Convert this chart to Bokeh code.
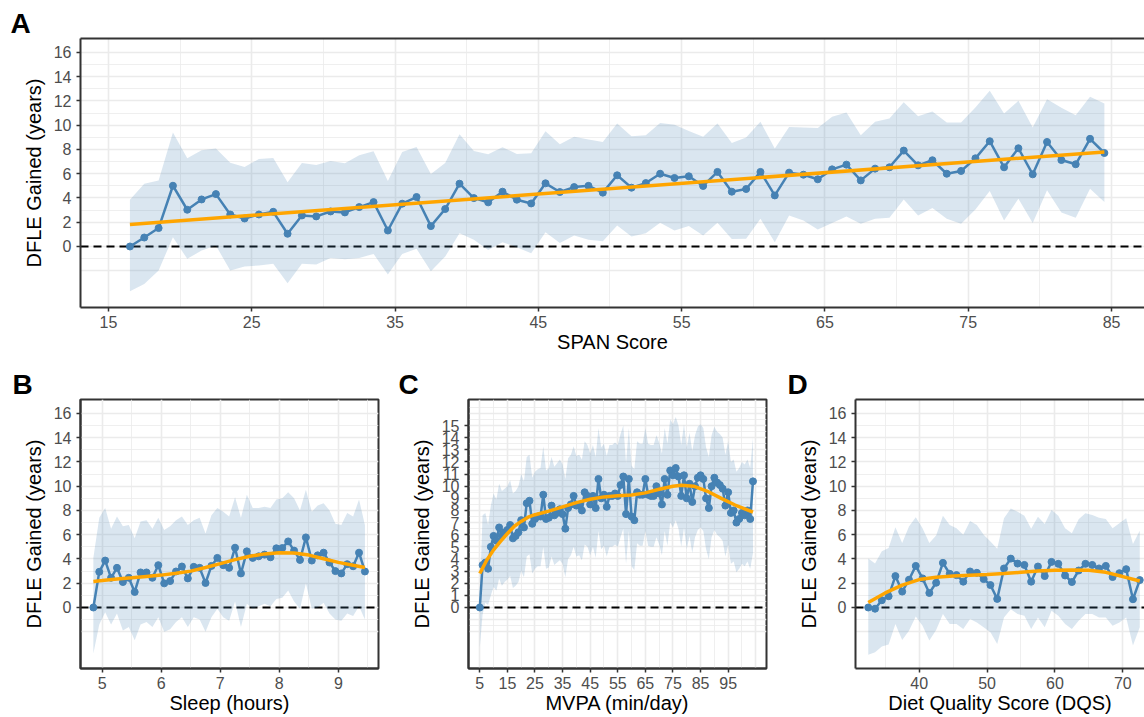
import numpy as np
from bokeh.plotting import figure
from bokeh.layouts import column, row
from bokeh.models import FixedTicker, LinearAxis, Span, AllLabels, Range1d, Title
from bokeh.embed import file_html
from bokeh.resources import INLINE

FONT = "Liberation Sans"
BLUE = "#4682B4"
ORANGE = "#FFA500"
YTITLE = "DFLE Gained (years)"

# ---------------- Panel A: SPAN Score ----------------
span_x = list(np.arange(16.5, 85.0, 1.0))
span_y = [0, 0.74, 1.52, 5.01, 3.03, 3.88, 4.32, 2.64, 2.31, 2.64,
          2.86, 1.05, 2.56, 2.48, 2.89, 2.81, 3.25, 3.66, 1.32, 3.53,
          4.08, 1.68, 3.09, 5.18, 3.99, 3.64, 4.52, 3.86, 3.55, 5.21,
          4.49, 4.9,
          5.0, 4.44, 5.87, 4.85, 5.23, 6.0, 5.65, 5.79, 4.99, 6.15,
          4.52, 4.74, 6.15, 4.21, 6.09, 5.92, 5.54, 6.36, 6.75, 5.45,
          6.42, 6.53, 7.91, 6.69, 7.11, 6.0, 6.23, 7.27, 8.68, 6.53,
          8.1, 5.95, 8.62, 7.13, 6.78, 8.88, 7.71]
span_hi = [3.86, 5.18, 5.45, 9.4, 7.27, 7.93, 8.07, 6.91, 6.56, 7.22,
           7.3, 5.29, 6.89, 6.72, 7.05, 6.86, 7.52, 7.85, 5.4, 7.8,
           8.21, 5.98, 6.89, 9.26, 7.88, 7.6, 8.18, 7.63, 7.69, 9.5,
           8.43, 9.04,
           8.82, 8.62, 10.14, 9.09, 9.17, 10.19, 10.03, 9.53, 9.04, 10.14,
           8.54, 8.98, 10.28, 8.07, 9.86, 9.81, 9.78, 10.69, 11.05, 9.17,
           10.28, 10.55, 11.9, 10.74, 11.13, 10.22, 10.22, 11.46, 12.84, 10.96,
           12.01, 9.81, 12.15, 11.43, 10.83, 12.34, 11.79]
span_lo = [-3.69, -3.09, -1.98, 0.77, -1.02, -0.33, 0.08, -1.98, -1.65, -1.57,
           -1.43, -3.03, -1.43, -1.49, -0.94, -1.05, -0.94, -0.61, -2.31, -0.61,
           -0.19, -2.04, -0.83, 1.1, 0.55, -0.28, 0.36, -0.06, -0.55, 1.18,
           0.28, 0.91,
           0.55, 0.44, 1.74, 0.83, 1.1, 1.96, 1.32, 1.68, 0.91, 1.96,
           0.61, 0.63, 2.29, 0.36, 2.56, 2.15, 1.4, 1.93, 2.48, 1.87,
           2.29, 2.37, 3.88, 2.56, 3.17, 2.29, 1.87, 3.06, 4.57, 2.15,
           3.94, 1.93, 4.63, 2.81, 2.37, 4.77, 3.66]
span_fit_x = [16.5, 84.5]
span_fit_y = [1.82, 7.8]

# ---------------- Panel B: Sleep ----------------
sleep_x = list(np.round(np.arange(4.85, 9.46, 0.1), 2))
sleep_y = [0, 2.94, 3.87, 2.45, 3.27, 2.1, 2.45, 1.28, 2.89, 2.89,
           2.45, 3.49, 1.99, 2.18, 2.97, 3.38, 2.4, 3.35, 3.27, 2.02,
           3.43, 4.09, 3.49, 3.27, 4.93, 2.81, 4.63, 4.09, 4.22, 4.36,
           4.14, 4.88, 4.9, 5.45, 4.69, 3.92, 5.78, 3.87, 4.3, 4.52,
           3.71, 3.0, 2.81, 3.57, 3.4, 4.52, 2.97]
sleep_hi = [4.1, 7.4, 8.2, 6.5, 7.5, 6.7, 6.8, 5.7, 7.1, 7.2,
            6.5, 7.4, 6.4, 6.7, 7.2, 7.5, 6.8, 7.2, 7.4, 6.1,
            7.6, 8.2, 7.9, 7.5, 9.1, 7.4, 9.3, 8.2, 8.2, 8.3,
            8.2, 8.9, 9.0, 9.5, 9.0, 8.0, 9.7, 7.9, 8.4, 8.6,
            8.0, 6.9, 6.8, 7.8, 7.5, 8.9, 6.8]
sleep_lo = [-3.8, -1.4, -0.4, -1.4, -0.5, -1.9, -1.6, -2.7, -1.4, -1.2,
            -1.6, -0.8, -2.0, -1.8, -1.2, -0.8, -1.6, -0.8, -1.0, -2.0,
            -0.8, -0.1, -0.8, -1.1, 0.5, -1.6, 0.3, -0.1, 0.1, 0.3,
            0.1, 0.7, 0.8, 1.4, 0.5, -0.1, 2.0, -0.1, 0.0, 0.4,
            -0.5, -1.0, -1.1, -0.5, -0.7, 0.1, -1.0]
sleep_fit_x = [4.85, 5.0, 5.25, 5.5, 5.75, 6.0, 6.25, 6.5, 6.75, 7.0,
               7.25, 7.5, 7.75, 8.0, 8.25, 8.5, 8.75, 9.0, 9.25, 9.45]
sleep_fit_y = [2.15, 2.22, 2.35, 2.45, 2.56, 2.67, 2.82, 3.0, 3.3, 3.62,
               3.95, 4.22, 4.42, 4.52, 4.5, 4.32, 4.02, 3.72, 3.48, 3.3]

# ---------------- Panel C: MVPA ----------------
mvpa_x = list(range(5, 105))
mvpa_y = [0, 3.5, 3.7, 3.2, 5.0, 5.9, 5.5, 6.6, 5.9, 6.2,
          6.4, 6.8, 5.7, 5.9, 6.2, 7.2, 6.6, 8.6, 8.8, 6.9,
          7.3, 7.5, 7.5, 9.3, 7.3, 7.4, 8.4, 7.6, 7.8, 8.1,
          7.7, 6.5, 8.2, 8.5, 9.2, 8.4, 8.4, 8.0, 9.5, 9.2,
          8.5, 9.2, 8.2, 10.6, 9.0, 9.3, 8.3, 9.2, 9.2, 9.4,
          9.2, 10.1, 10.8, 7.7, 10.6, 7.5, 7.2, 9.5, 9.3, 9.3,
          10.6, 9.3, 9.2, 9.2, 10.0, 9.4, 8.5, 10.6, 9.3, 11.3,
          10.9, 11.5, 10.8, 9.2, 10.9, 9.0, 10.2, 8.7, 10.0, 10.7,
          10.9, 10.6, 9.0, 8.2, 10.0, 10.7, 10.3, 10.1, 9.8, 8.4,
          9.5, 7.8, 8.0, 7.0, 7.3, 7.8, 7.6, 8.0, 7.3, 10.4]
mvpa_hi = [1.0, 7.6, 7.8, 6.8, 8.4, 9.4, 8.9, 10.2, 9.6, 9.8,
           10.0, 10.5, 9.4, 9.6, 10.0, 11.0, 10.4, 12.4, 12.6, 10.7,
           11.2, 11.4, 11.5, 13.3, 11.3, 11.5, 12.4, 11.6, 11.9, 12.2,
           11.8, 10.6, 12.3, 12.6, 13.3, 12.5, 12.6, 12.2, 13.7, 13.4,
           12.7, 13.4, 12.4, 14.8, 13.2, 13.5, 12.5, 13.4, 13.4, 13.6,
           13.4, 14.3, 15.0, 11.9, 14.8, 11.7, 11.4, 13.7, 13.5, 13.5,
           14.8, 13.5, 13.4, 13.4, 14.2, 13.6, 12.7, 14.8, 13.5, 15.5,
           15.1, 15.7, 15.0, 13.4, 15.1, 13.2, 14.4, 12.9, 14.2, 14.9,
           15.1, 14.8, 13.2, 12.4, 14.2, 14.9, 14.5, 14.3, 14.0, 12.6,
           13.7, 12.0, 12.2, 11.2, 11.5, 12.0, 11.8, 12.2, 11.5, 14.0]
mvpa_lo = [-3.3, -0.6, 0.4, 0.2, 1.0, 1.7, 1.4, 2.4, 1.8, 2.1,
           2.3, 2.6, 1.6, 1.8, 2.1, 3.0, 2.5, 4.2, 4.4, 2.8,
           3.2, 3.4, 3.4, 5.0, 3.2, 3.3, 4.2, 3.5, 3.7, 3.9,
           3.6, 2.5, 4.0, 4.3, 5.0, 4.2, 4.3, 3.9, 5.2, 5.0,
           4.3, 5.0, 4.1, 6.3, 4.8, 5.1, 4.2, 5.0, 5.0, 5.2,
           5.0, 5.8, 6.5, 3.6, 6.3, 3.4, 3.1, 5.3, 5.1, 5.1,
           6.3, 5.1, 5.0, 5.0, 5.8, 5.2, 4.3, 6.3, 5.1, 7.0,
           6.6, 7.2, 6.5, 5.0, 6.6, 4.8, 5.9, 4.5, 5.8, 6.4,
           6.6, 6.3, 4.8, 4.0, 5.8, 6.4, 6.0, 5.8, 5.5, 4.2,
           5.2, 3.6, 3.8, 2.9, 3.2, 3.6, 3.4, 3.8, 3.2, 4.5]
mvpa_fit_x = [5, 7.5, 10, 12.5, 15, 17.5, 20, 22.5, 25, 30, 35, 40, 45, 50,
              55, 60, 65, 70, 75, 78, 82.5, 87.5, 92.5, 97.5, 104]
mvpa_fit_y = [2.8, 3.9, 4.75, 5.45, 6.1, 6.7, 7.1, 7.45, 7.65, 7.95, 8.3, 8.65,
              8.92, 9.12, 9.22, 9.28, 9.45, 9.75, 10.0, 10.08, 10.0, 9.58, 9.0,
              8.45, 7.87]

# ---------------- Panel D: Diet Quality Score ----------------
dqs_x = list(np.arange(32.5, 73.0, 1.0))
dqs_y = [0, -0.1, 0.6, 0.93, 2.59, 1.31, 2.29, 3.43, 2.4, 1.2,
         2.04, 3.68, 2.78, 2.67, 2.13, 2.97, 2.86, 2.34, 1.85, 0.71,
         3.22, 4.03, 3.62, 3.51, 2.13, 3.38, 2.59, 3.76, 3.6, 2.64,
         2.1, 3.05, 3.6, 3.51, 3.22, 3.43, 2.51, 2.83, 3.16, 0.68, 2.26]
dqs_hi = [4.03, 3.62, 4.63, 4.9, 6.62, 5.31, 6.68, 7.44, 6.54, 5.31,
          5.94, 7.57, 6.81, 6.54, 5.99, 7.14, 6.81, 5.99, 5.45, 4.85,
          7.36, 8.17, 7.9, 7.57, 6.49, 7.49, 6.89, 8.04, 7.57, 6.54,
          6.13, 7.28, 7.77, 7.63, 7.41, 7.3, 6.54, 6.95, 7.36, 5.23, 6.32]
dqs_lo = [-3.9, -3.68, -3.22, -3.05, -1.36, -2.67, -1.91, -0.74, -1.5, -2.72,
          -1.85, -0.54, -1.36, -1.36, -1.77, -0.95, -1.23, -1.63, -2.04, -3.0,
          -0.82, -0.14, -0.54, -0.68, -1.77, -0.82, -1.63, -0.27, -0.68, -1.36,
          -1.77, -1.09, -0.54, -0.54, -0.82, -0.82, -1.5, -1.23, -0.82, -3.13, -1.63]
dqs_fit_x = [32.5, 35, 37.5, 40, 42.5, 45, 47.5, 50, 52.5, 55, 57.5, 60,
             62.5, 65, 67.5, 70, 72.5]
dqs_fit_y = [0.41, 1.2, 1.85, 2.3, 2.5, 2.6, 2.66, 2.72, 2.8, 2.9, 3.0, 3.08,
             3.1, 3.08, 2.9, 2.55, 2.18]

# tick / grid definitions
y_ticks_std = [0, 2, 4, 6, 8, 10, 12, 14, 16]
y_grid_major = [-2, 0, 2, 4, 6, 8, 10, 12, 14, 16]
y_grid_minor = [-1, 1, 3, 5, 7, 9, 11, 13, 15]
y_ticks_c = list(range(0, 16))
y_grid_major_c = list(range(-2, 17))
y_grid_minor_c = [v + 0.5 for v in range(-2, 17)]


def make_panel(x, y, lo, hi, fx, fy, *, width, height, bl, br, bt, bb,
               xr, yr, xticks, xmaj, xmin, yticks, ymaj, ymin,
               letter, letter_offset, xtitle, boxed):
    p = figure(width=width, height=height,
               x_range=Range1d(*xr), y_range=Range1d(*yr),
               output_backend="svg", toolbar_location=None,
               min_border_left=bl, min_border_right=br,
               min_border_top=bt, min_border_bottom=bb)
    p.background_fill_color = "white"
    p.border_fill_color = "white"
    bax = p.below[0]
    lax = p.left[0]

    p.xgrid.ticker = FixedTicker(ticks=xmaj, minor_ticks=xmin)
    p.ygrid.ticker = FixedTicker(ticks=ymaj, minor_ticks=ymin)
    for g in (p.xgrid[0], p.ygrid[0]):
        g.grid_line_color = "#EBEBEB"
        g.grid_line_width = 1.6
        g.minor_grid_line_color = "#EBEBEB"
        g.minor_grid_line_width = 0.8

    bax.ticker = FixedTicker(ticks=xticks)
    lax.ticker = FixedTicker(ticks=yticks)
    for ax in (bax, lax):
        ax.axis_line_color = "#333333"
        ax.axis_line_width = 2
        ax.major_tick_line_color = "#333333"
        ax.major_tick_line_width = 1.5
        ax.major_tick_out = 4
        ax.major_tick_in = 0
        ax.minor_tick_out = 0
        ax.minor_tick_in = 0
        ax.major_label_text_font = FONT
        ax.major_label_text_font_size = "16px"
        ax.major_label_text_color = "#4D4D4D"
        ax.major_label_policy = AllLabels()
        ax.axis_label_text_font = FONT
        ax.axis_label_text_font_size = "20px"
        ax.axis_label_text_font_style = "normal"
        ax.axis_label_text_color = "black"
    bax.major_label_standoff = 4
    bax.axis_label = xtitle
    bax.axis_label_standoff = 0
    lax.major_label_standoff = 5
    lax.axis_label = YTITLE
    lax.axis_label_standoff = 6

    if boxed:
        p.outline_line_color = "#333333"
        p.outline_line_width = 2
        p.outline_line_alpha = 1
    else:
        p.outline_line_color = None
        top = LinearAxis(ticker=FixedTicker(ticks=[]),
                         axis_line_color="#333333", axis_line_width=2,
                         major_tick_line_color=None, minor_tick_line_color=None,
                         major_tick_out=0, major_tick_in=0,
                         major_label_standoff=0,
                         major_label_text_font_size="0px")
        p.add_layout(top, "above")

    p.add_layout(Title(text=letter, align="left", offset=letter_offset,
                       standoff=0, text_font=FONT, text_font_size="28px",
                       text_font_style="bold", text_color="black"), "above")

    # ribbon, reference line, series, smooth
    p.varea(x=x, y1=lo, y2=hi, fill_color=BLUE, fill_alpha=0.2)
    p.add_layout(Span(location=0, dimension="width", line_color="black",
                      line_width=2, line_dash="8 5", level="underlay"))
    p.line(x=x, y=y, line_color=BLUE, line_width=2.5)
    p.scatter(x=x, y=y, size=7, fill_color=BLUE, line_color=BLUE)
    p.line(x=fx, y=fy, line_color=ORANGE, line_width=3.5)
    return p


YR = (-5.03, 17.15)

pA = make_panel(span_x, span_y, span_lo, span_hi, span_fit_x, span_fit_y,
                width=1144, height=365, bl=80, br=0, bt=38, bb=58,
                xr=(13.05, 87.3), yr=YR,
                xticks=[15, 25, 35, 45, 55, 65, 75, 85],
                xmaj=[15, 25, 35, 45, 55, 65, 75, 85],
                xmin=[20, 30, 40, 50, 60, 70, 80],
                yticks=y_ticks_std, ymaj=y_grid_major, ymin=y_grid_minor,
                letter="A", letter_offset=-70, xtitle="SPAN Score", boxed=False)

pB = make_panel(sleep_x, sleep_y, sleep_lo, sleep_hi, sleep_fit_x, sleep_fit_y,
                width=390, height=352, bl=80, br=12, bt=34, bb=49,
                xr=(4.632, 9.68), yr=YR,
                xticks=[5, 6, 7, 8, 9], xmaj=[5, 6, 7, 8, 9],
                xmin=[5.5, 6.5, 7.5, 8.5, 9.5],
                yticks=y_ticks_std, ymaj=y_grid_major, ymin=y_grid_minor,
                letter="B", letter_offset=-68, xtitle="Sleep (hours)", boxed=True)

pC = make_panel(mvpa_x, mvpa_y, mvpa_lo, mvpa_hi, mvpa_fit_x, mvpa_fit_y,
                width=385, height=352, bl=78, br=9, bt=34, bb=49,
                xr=(0.9, 108.9), yr=YR,
                xticks=[5, 15, 25, 35, 45, 55, 65, 75, 85, 95],
                xmaj=[5, 15, 25, 35, 45, 55, 65, 75, 85, 95, 105],
                xmin=[10, 20, 30, 40, 50, 60, 70, 80, 90, 100],
                yticks=y_ticks_c, ymaj=y_grid_major_c, ymin=y_grid_minor_c,
                letter="C", letter_offset=-70, xtitle="MVPA (min/day)", boxed=True)

pD = make_panel(dqs_x, dqs_y, dqs_lo, dqs_hi, dqs_fit_x, dqs_fit_y,
                width=369, height=352, bl=80, br=0, bt=34, bb=49,
                xr=(30.62, 73.2), yr=YR,
                xticks=[40, 50, 60, 70], xmaj=[30, 40, 50, 60, 70],
                xmin=[35, 45, 55, 65],
                yticks=y_ticks_std, ymaj=y_grid_major, ymin=y_grid_minor,
                letter="D", letter_offset=-68, xtitle="Diet Quality Score (DQS)",
                boxed=False)

layout = column(pA, row(pB, pC, pD, spacing=0), spacing=0)

open("out.html", "w").write(file_html(layout, INLINE))
